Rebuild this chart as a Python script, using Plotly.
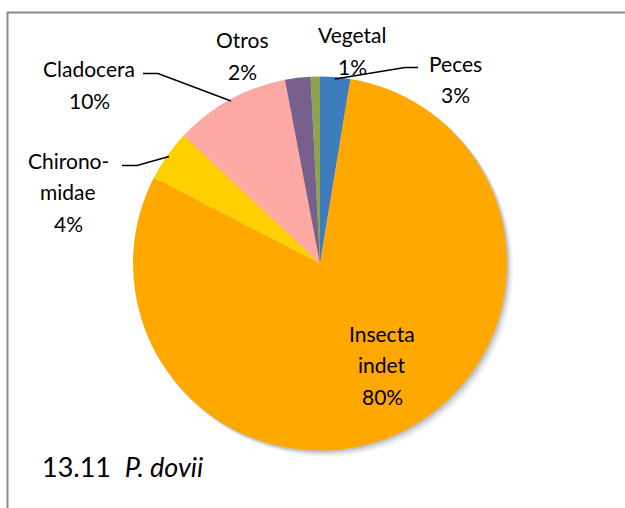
import plotly.graph_objects as go

# diet composition, P. dovii (clockwise from 12 o'clock)
labels = ["Peces", "Insecta indet", "Chironomidae", "Cladocera", "Otros", "Vegetal"]
label_lines = [["Peces"], ["Insecta", "indet"], ["Chirono-", "midae"], ["Cladocera"], ["Otros"], ["Vegetal"]]
values = [2.6, 80.0, 4.4, 10.0, 2.2, 0.8]
colors = ["#3F7CBF", "#FFA800", "#FFD000", "#FFA9A5", "#78608E", "#8FA34A"]

W, H = 625, 508
FONT = "Lato"


def px_x(x):
    return x / W


def px_y(y):
    return 1 - y / H


# label anchor: centre x, centre y of first line, line spacing in px
label_pos = {
    "Peces": (455, 63),
    "Insecta indet": (382, 333),
    "Chironomidae": (68, 160),
    "Cladocera": (89, 69),
    "Otros": (242, 40),
    "Vegetal": (352, 35),
}
LINE_GAP = 31.5
leaders = {
    "Peces": [(418, 67.5), (405, 67.5), (335, 79)],
    "Chironomidae": [(122, 165.5), (137, 165.5), (169, 156.5)],
    "Cladocera": [(143, 73.5), (158, 73.5), (231, 101)],
}

cx, cy, r = 320, 263.5, 187

fig = go.Figure(go.Pie(
    labels=labels,
    values=values,
    sort=False,
    direction="clockwise",
    rotation=0,
    textinfo="none",
    hoverinfo="label+percent",
    marker=dict(colors=colors, line=dict(width=0)),
    domain=dict(x=[px_x(cx - r), px_x(cx + r)], y=[px_y(cy + r), px_y(cy - r)]),
    showlegend=False,
))

shapes = []
# soft shadow under the pie
for off, op in [(6, 0.05), (4, 0.08), (2, 0.12)]:
    shapes.append(dict(type="circle", xref="paper", yref="paper", layer="below",
                       x0=px_x(cx - r + off - 1), x1=px_x(cx + r + off),
                       y0=px_y(cy + r + off), y1=px_y(cy - r + off - 1),
                       fillcolor=f"rgba(0,0,0,{op})", line=dict(width=0)))
# outer frame
shapes.append(dict(type="rect", xref="paper", yref="paper",
                   x0=px_x(7.5), x1=px_x(640), y0=px_y(530), y1=px_y(12.5),
                   line=dict(color="#8C8C8C", width=2)))
for pts in leaders.values():
    path = "M " + " L ".join(f"{px_x(x)},{px_y(y)}" for x, y in pts)
    shapes.append(dict(type="path", xref="paper", yref="paper", path=path,
                       line=dict(color="black", width=1.5)))

annotations = []
for lab, lines, v in zip(labels, label_lines, values):
    x, y = label_pos[lab]
    for i, txt in enumerate(lines + [f"{round(v)}%"]):
        annotations.append(dict(
            x=px_x(x), y=px_y(y + i * LINE_GAP), xref="paper", yref="paper",
            xanchor="center", yanchor="middle", showarrow=False,
            text=txt, font=dict(family=FONT, size=21, color="black"),
        ))
annotations.append(dict(
    x=px_x(40), y=px_y(466), xref="paper", yref="paper",
    xanchor="left", yanchor="middle", showarrow=False,
    text="13.11  <i>P. dovii</i>",
    font=dict(family=FONT, size=27, color="black"),
))

fig.update_layout(
    width=W, height=H,
    margin=dict(l=0, r=0, t=0, b=0),
    paper_bgcolor="white",
    plot_bgcolor="white",
    shapes=shapes,
    annotations=annotations,
)

fig.write_html("out.html", config={"displayModeBar": False},
               post_script="document.body.style.margin='0';")
